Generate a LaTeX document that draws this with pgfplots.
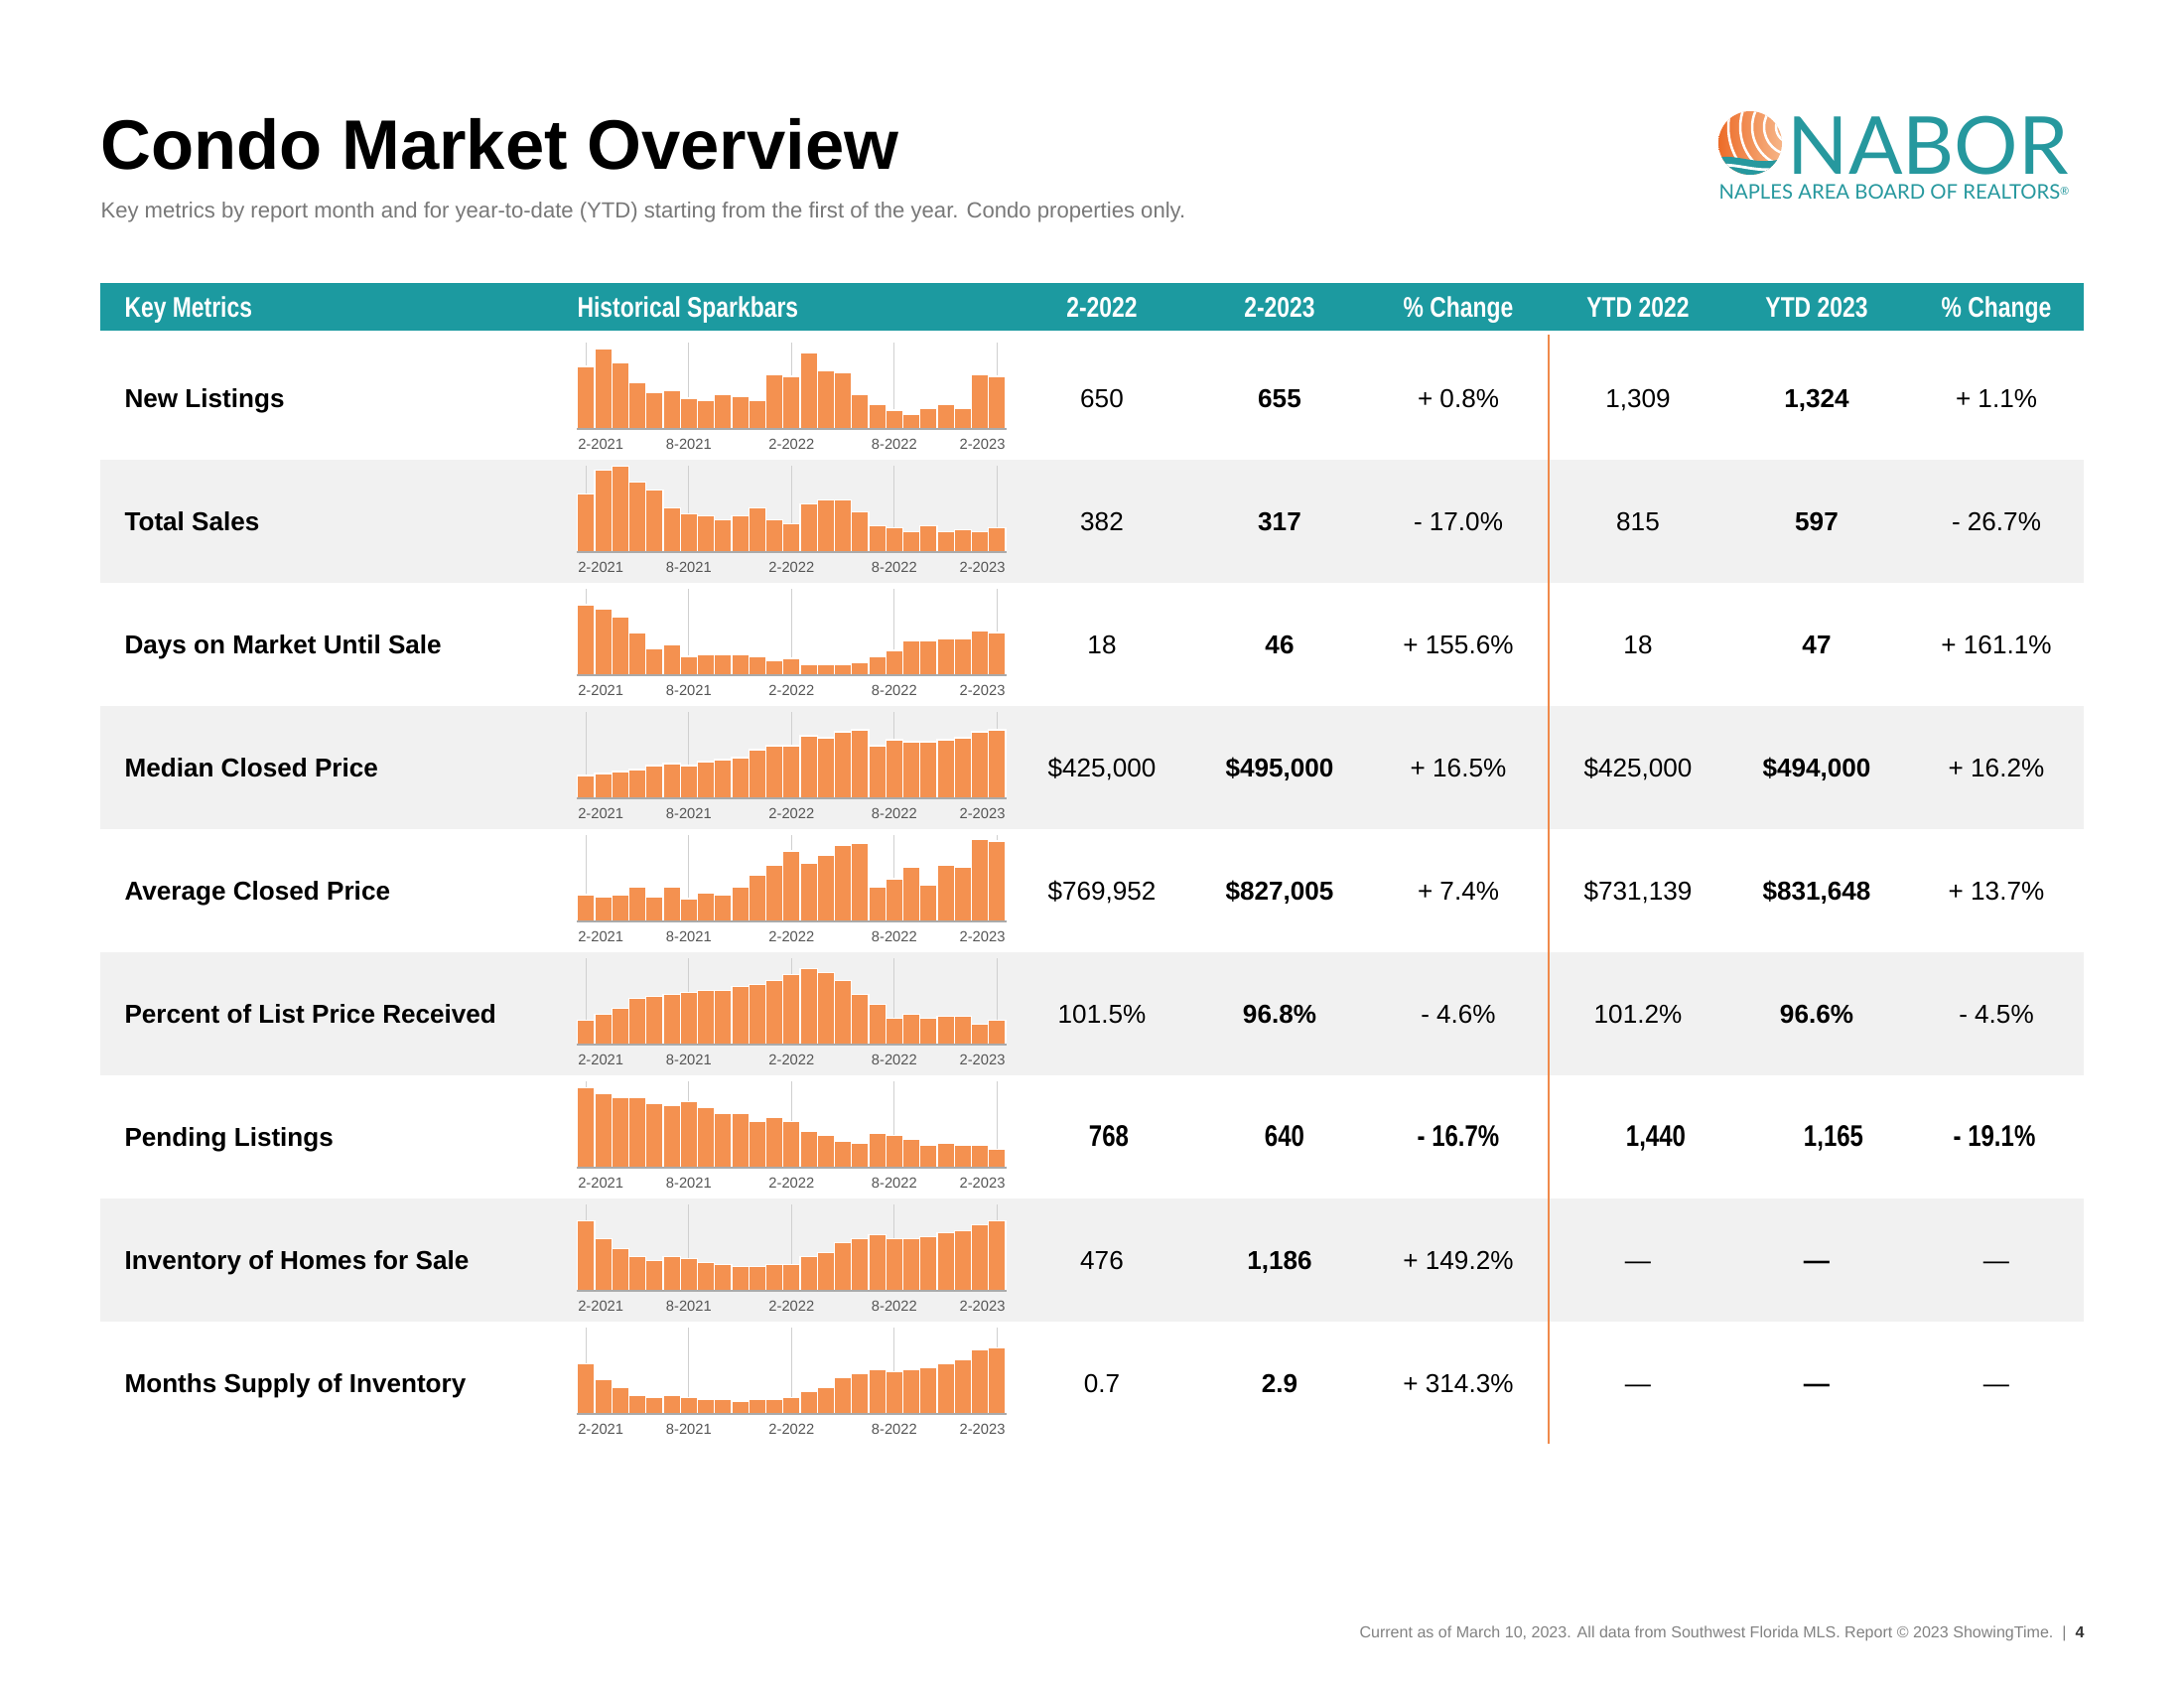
\documentclass[border=0pt]{standalone}
\usepackage{pgfplots}
\pgfplotsset{compat=1.18}
\usepackage{pgfplotstable}
\usepackage{fontspec}
\setmainfont{Liberation Sans}
\newfontfamily\condfont[FakeStretch=0.8]{Liberation Sans}
\newfontfamily\logofont{Lato}

\definecolor{hdrteal}{RGB}{28,154,160}
\definecolor{logoteal}{RGB}{38,152,158}
\definecolor{barorange}{RGB}{244,145,80}
\definecolor{lineorange}{RGB}{240,138,75}
\definecolor{rowgray}{RGB}{241,241,241}
\definecolor{gridgray}{RGB}{208,208,208}
\definecolor{basegray}{RGB}{170,170,170}
\definecolor{labelgray}{RGB}{85,85,85}
\definecolor{subgray}{RGB}{120,120,120}
\definecolor{footgray}{RGB}{130,130,130}
\definecolor{shellA}{RGB}{236,104,36}
\definecolor{shellB}{RGB}{247,185,140}

\pgfplotstableread{
x NL TS DOM MCP ACP PLP PEND INV MSI
0 190 176 214 70 82 74 243 212 153
1 244 248 202 76 76 92 225 158 105
2 202 260 178 82 82 110 213 128 81
3 142 212 130 88 106 140 213 104 57
4 112 188 82 100 76 146 195 92 51
5 117 134 94 106 106 152 189 104 57
6 94 116 58 100 70 158 201 98 51
7 87 110 64 112 88 164 183 86 45
8 106 98 64 118 82 164 165 80 45
9 100 110 64 124 106 176 165 74 39
10 87 134 58 148 142 182 141 74 45
11 166 98 46 160 172 194 153 80 45
12 160 86 52 160 214 212 141 80 51
13 232 146 34 190 178 230 111 104 69
14 178 158 34 184 202 218 99 116 81
15 172 158 34 202 232 194 81 146 111
16 106 122 40 208 238 152 75 158 123
17 76 80 58 160 106 122 105 170 135
18 58 74 76 178 130 80 99 158 129
19 46 62 106 172 166 92 87 158 135
20 64 80 106 172 112 80 69 164 141
21 76 62 112 178 172 86 75 176 153
22 64 68 112 184 166 86 69 182 165
23 166 62 136 202 250 62 69 200 195
24 160 74 130 208 244 74 57 212 201
}\sparkdata

\pgfplotsset{
  spark/.style={
    scale only axis, width=155.27bp, height=31.32bp, anchor=south west,
    xmin=-0.5, xmax=24.5, ymin=0, ymax=261,
    axis line style={draw=none}, ytick=\empty,
    xtick={0,6,12,18,24}, xticklabels={}, major tick length=0pt,
    xmajorgrids, grid style={color=gridgray, line width=0.45bp},
    clip=false,
  },
}
\tikzset{
  sparklbl/.style={font=\fontsize{5.3bp}{6bp}\selectfont, text=labelgray, inner sep=0pt, yshift=-3.2bp},
  rowlbl/.style={anchor=base west, inner sep=0pt, font=\fontsize{9.4bp}{11bp}\selectfont\bfseries},
  val/.style={anchor=base, inner sep=0pt, font=\fontsize{9.4bp}{11bp}\selectfont},
  bval/.style={anchor=base, inner sep=0pt, font=\fontsize{9.4bp}{11bp}\selectfont\bfseries},
  cval/.style={anchor=base, inner sep=0pt, font=\condfont\bfseries\fontsize{10.8bp}{12bp}\selectfont},
  hdr/.style={anchor=base, inner sep=0pt, text=white, font=\condfont\bfseries\fontsize{10.3bp}{12bp}\selectfont},
}

\newcommand\spark[2]{%
\begin{axis}[spark, at={(s#1)}]
\addplot[ybar, bar width=1, bar shift=0pt, fill=barorange, draw=white, line width=0.45bp] table[x=x,y=#2]{\sparkdata};
\draw[basegray, line width=0.7bp] (axis cs:-0.55,0) -- (axis cs:24.55,0);
\node[sparklbl, anchor=north west] at (axis cs:-0.5,0) {2-2021};
\node[sparklbl, anchor=north] at (axis cs:6,0) {8-2021};
\node[sparklbl, anchor=north] at (axis cs:12,0) {2-2022};
\node[sparklbl, anchor=north] at (axis cs:18,0) {8-2022};
\node[sparklbl, anchor=north east] at (axis cs:24.5,0) {2-2023};
\end{axis}}

\newcommand\datarow[8]{%
\pgfmathsetmacro\yb{410.5+124*#1}
\node[rowlbl] at (125,\yb) {#2};
\node[val] at (1110,\yb) {#3};
\node[bval] at (1289,\yb) {#4};
\node[val] at (1469,\yb) {#5};
\node[val] at (1650,\yb) {#6};
\node[bval] at (1830,\yb) {#7};
\node[val] at (2011,\yb) {#8};
}

\begin{document}
\begin{tikzpicture}
\begin{scope}[x=0.36bp,y=-0.36bp]
\fill[white] (0,0) rectangle (2200,1700);

% title and subtitle
\node[anchor=base west, inner sep=0pt, font=\fontsize{25.4bp}{30bp}\selectfont\bfseries] at (101,170) {Condo Market Overview};
\node[anchor=base west, inner sep=0pt, text=subgray, font=\fontsize{7.95bp}{9bp}\selectfont] at (101,219) {Key metrics by report month and for year-to-date (YTD) starting from the first of the year. Condo properties only.};

% logo
\begin{scope}
\clip (1763,144) circle (32);
\shade[left color=shellA, right color=shellB] (1728,108) rectangle (1798,182);
\foreach \r in {16,28,40,52,64} \draw[white, line width=0.9bp] (1805,128) circle (\r);
\fill[logoteal] (1725,160) .. controls (1748,152) and (1772,170) .. (1800,158) -- (1800,182) -- (1725,182) -- cycle;
\draw[white, line width=1bp] (1725,168) .. controls (1748,161) and (1772,178) .. (1800,167);
\end{scope}
\node[anchor=base west, inner sep=0pt, text=logoteal, font=\logofont\fontsize{29bp}{32bp}\selectfont] at (1800,175) {NABOR};
\node[anchor=base west, inner sep=0pt, text=logoteal, font=\logofont\fontsize{7.3bp}{8bp}\selectfont] at (1731,200) {NAPLES AREA BOARD OF REALTORS{\fontsize{4bp}{4bp}\selectfont\raisebox{0.35em}{\textregistered}}};

% header band
\fill[hdrteal] (101,285) rectangle (2099,333);
\node[hdr, anchor=base west] at (125,319) {Key Metrics};
\node[hdr, anchor=base west] at (581,319) {Historical Sparkbars};
\node[hdr] at (1110,319) {2-2022};
\node[hdr] at (1289,319) {2-2023};
\node[hdr] at (1469,319) {\% Change};
\node[hdr] at (1650,319) {YTD 2022};
\node[hdr] at (1830,319) {YTD 2023};
\node[hdr] at (2011,319) {\% Change};

% row bands
\foreach \i in {1,3,5,7} {
  \pgfmathsetmacro\ya{339+124*\i}
  \pgfmathsetmacro\yz{463+124*\i}
  \fill[rowgray] (101,\ya) rectangle (2099,\yz);
}
\draw[lineorange, line width=0.6bp] (1560,337) -- (1560,1454);

\foreach \i in {0,...,8} {
  \pgfmathsetmacro\yy{432.3+124*\i}
  \coordinate (s\i) at (581.7,\yy);
}

\datarow{0}{New Listings}{650}{655}{+ 0.8\%}{1,309}{1,324}{+ 1.1\%}
\datarow{1}{Total Sales}{382}{317}{- 17.0\%}{815}{597}{- 26.7\%}
\datarow{2}{Days on Market Until Sale}{18}{46}{+ 155.6\%}{18}{47}{+ 161.1\%}
\datarow{3}{Median Closed Price}{\$425,000}{\$495,000}{+ 16.5\%}{\$425,000}{\$494,000}{+ 16.2\%}
\datarow{4}{Average Closed Price}{\$769,952}{\$827,005}{+ 7.4\%}{\$731,139}{\$831,648}{+ 13.7\%}
\datarow{5}{Percent of List Price Received}{101.5\%}{96.8\%}{- 4.6\%}{101.2\%}{96.6\%}{- 4.5\%}
% pending listings row (condensed bold)
\node[rowlbl] at (125,1154.5) {Pending Listings};
\node[cval] at (1117,1154.5) {768};
\node[cval] at (1294,1154.5) {640};
\node[cval] at (1469,1154.5) {- 16.7\%};
\node[cval] at (1668,1154.5) {1,440};
\node[cval] at (1847,1154.5) {1,165};
\node[cval] at (2009,1154.5) {- 19.1\%};
\datarow{7}{Inventory of Homes for Sale}{476}{1,186}{+ 149.2\%}{—}{—}{—}
\datarow{8}{Months Supply of Inventory}{0.7}{2.9}{+ 314.3\%}{—}{—}{—}

% footer
\node[anchor=base east, inner sep=0pt, text=footgray, font=\fontsize{5.78bp}{7bp}\selectfont] at (2100,1649) {Current as of March 10, 2023. All data from Southwest Florida MLS. Report © 2023 ShowingTime.~~|~~\textcolor{black!80}{\bfseries 4}};
\end{scope}

\spark{0}{NL}
\spark{1}{TS}
\spark{2}{DOM}
\spark{3}{MCP}
\spark{4}{ACP}
\spark{5}{PLP}
\spark{6}{PEND}
\spark{7}{INV}
\spark{8}{MSI}
\end{tikzpicture}
\end{document}
